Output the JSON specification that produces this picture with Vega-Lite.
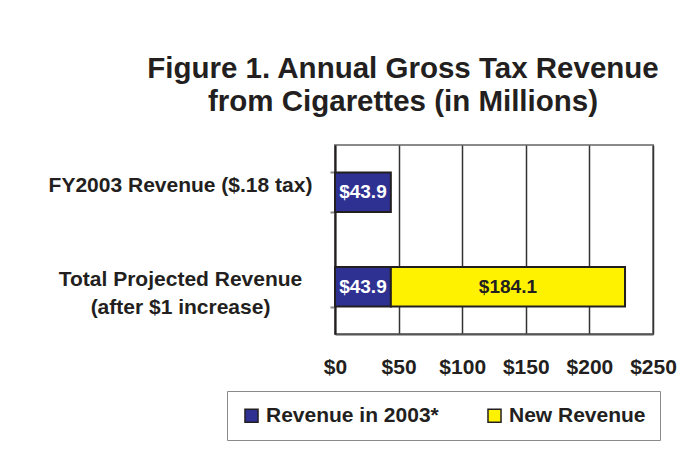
{
  "$schema": "https://vega.github.io/schema/vega-lite/v6.json",
  "autosize": "none",
  "width": 318,
  "height": 189,
  "padding": {"left": 335, "top": 145, "right": 47, "bottom": 136},
  "background": "white",
  "config": {
    "font": "Liberation Sans",
    "view": {"stroke": "#8a8a8a", "strokeWidth": 2}
  },
  "title": {
    "text": ["Figure 1. Annual Gross Tax Revenue", "from Cigarettes (in Millions)"],
    "fontSize": 29.5,
    "fontWeight": "bold",
    "color": "#231F20",
    "lineHeight": 33,
    "anchor": "middle",
    "dx": -91,
    "offset": 17
  },
  "data": {
    "values": [
      {"category": "FY2003 Revenue ($.18 tax)", "series": "Revenue in 2003*", "order": 1, "value": 43.9},
      {"category": "Total Projected Revenue|(after $1 increase)", "series": "Revenue in 2003*", "order": 1, "value": 43.9},
      {"category": "Total Projected Revenue|(after $1 increase)", "series": "New Revenue", "order": 2, "value": 184.1}
    ]
  },
  "transform": [
    {"stack": "value", "groupby": ["category"], "sort": [{"field": "order"}], "as": ["segStart", "segEnd"]},
    {"calculate": "(datum.segStart + datum.segEnd) / 2", "as": "segMid"}
  ],
  "encoding": {
    "y": {
      "field": "category",
      "type": "nominal",
      "sort": null,
      "scale": {"paddingInner": 0.58, "paddingOuter": 0.29},
      "axis": {
        "title": null,
        "labelExpr": "split(datum.label, '|')",
        "labelAlign": "center",
        "labelPadding": 150,
        "labelLimit": 400,
        "labelFontSize": 21,
        "labelFontWeight": "bold",
        "labelColor": "#231F20",
        "labelLineHeight": 28,
        "labelOffset": -7,
        "tickBand": "extent",
        "tickSize": 5,
        "tickColor": "#8a8a8a",
        "tickWidth": 2,
        "domainColor": "#231F20",
        "domainWidth": 2
      }
    }
  },
  "layer": [
    {
      "mark": {"type": "bar", "stroke": "#231F20", "strokeWidth": 2},
      "encoding": {
        "x": {
          "field": "segStart",
          "type": "quantitative",
          "scale": {"domain": [0, 250], "nice": false},
          "axis": {
            "title": null,
            "values": [0, 50, 100, 150, 200, 250],
            "format": "$d",
            "ticks": false,
            "labelFlush": false,
            "labelPadding": 22,
            "labelFontSize": 21,
            "labelFontWeight": "bold",
            "labelColor": "#231F20",
            "grid": true,
            "gridColor": "#333333",
            "gridWidth": 1.5,
            "domainColor": "#555555",
            "domainWidth": 2
          }
        },
        "x2": {"field": "segEnd"},
        "color": {
          "field": "series",
          "type": "nominal",
          "sort": ["Revenue in 2003*", "New Revenue"],
          "scale": {"domain": ["Revenue in 2003*", "New Revenue"], "range": ["#2E3192", "#FFF200"]},
          "legend": {
            "title": null,
            "orient": "none",
            "legendX": -108,
            "legendY": 246,
            "direction": "horizontal",
            "strokeColor": "#8a8a8a",
            "padding": 14,
            "symbolType": "square",
            "symbolSize": 170,
            "symbolStrokeColor": "#231F20",
            "symbolStrokeWidth": 1.5,
            "symbolOpacity": 1,
            "labelFontSize": 21,
            "labelFontWeight": "bold",
            "labelColor": "#231F20",
            "labelLimit": 300,
            "columnPadding": 45
          }
        }
      }
    },
    {
      "mark": {"type": "text", "fontSize": 19, "fontWeight": "bold", "align": "center", "baseline": "middle"},
      "encoding": {
        "x": {"field": "segMid", "type": "quantitative"},
        "text": {"field": "value", "type": "quantitative", "format": "$.1f"},
        "color": {
          "condition": {"test": "datum.series === 'New Revenue'", "value": "#231F20"},
          "value": "white"
        }
      }
    }
  ]
}
